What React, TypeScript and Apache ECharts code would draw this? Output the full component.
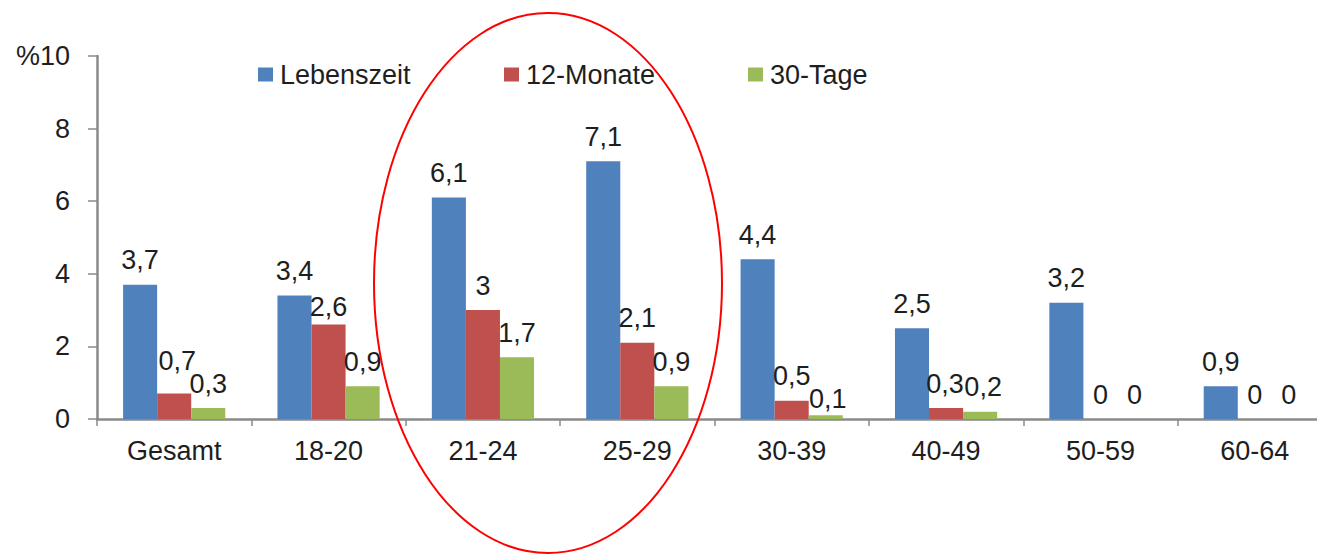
import React, { useEffect, useRef } from "react";
import * as echarts from "echarts";

const categories = ["Gesamt", "18-20", "21-24", "25-29", "30-39", "40-49", "50-59", "60-64"];
const lebenszeit = [3.7, 3.4, 6.1, 7.1, 4.4, 2.5, 3.2, 0.9];
const zwoelfMonate = [0.7, 2.6, 3, 2.1, 0.5, 0.3, 0, 0];
const dreissigTage = [0.3, 0.9, 1.7, 0.9, 0.1, 0.2, 0, 0];
const seriesNames = ["Lebenszeit", "12-Monate", "30-Tage"];
const colors = ["#4f81bd", "#c0504d", "#9bbb59"];

// per-point label nudges where labels would otherwise crowd each other
const labelNudges: Record<string, [number, number]> = {
  "1-0": [3, -8],
  "1-1": [0, 7],
  "1-5": [-1, 0],
  "2-4": [2, 8],
  "2-5": [3, 0],
};

const FONT = "'Liberation Sans', Arial, sans-serif";
const TEXT = "#1e1e1e";
const AXIS = "#8a8a8a";

// the plot runs slightly past the visible frame on the right
const CANVAS_W = 1345;
const CANVAS_H = 554;
const PLOT_LEFT = 97;
const PLOT_W = 1235;

export default function App() {
  const ref = useRef<HTMLDivElement>(null);

  useEffect(() => {
    if (!ref.current) return;
    const chart = echarts.init(ref.current, undefined, { renderer: "svg" });
    const all = [lebenszeit, zwoelfMonate, dreissigTage];

    const legendLefts = [258, 504, 748];

    chart.setOption({
      animation: false,
      backgroundColor: "#ffffff",
      textStyle: { fontFamily: FONT },
      legend: seriesNames.map((name, i) => ({
        data: [name],
        left: legendLefts[i],
        top: 61,
        padding: 0,
        icon: "rect",
        itemWidth: 15,
        itemHeight: 14,
        selectedMode: false,
        textStyle: { fontSize: 27, color: TEXT, fontFamily: FONT, padding: [0, 0, 0, 2] },
      })),
      grid: {
        left: PLOT_LEFT,
        top: 56,
        bottom: 135,
        right: CANVAS_W - PLOT_LEFT - PLOT_W,
        containLabel: false,
      },
      xAxis: {
        type: "category",
        data: categories,
        axisLine: { lineStyle: { color: AXIS, width: 2.5 } },
        axisTick: { show: true, alignWithLabel: false, length: 7, lineStyle: { color: AXIS, width: 1.5 } },
        axisLabel: { fontSize: 27, color: TEXT, margin: 18, fontFamily: FONT },
      },
      yAxis: {
        type: "value",
        min: 0,
        max: 10,
        interval: 2,
        splitLine: { show: false },
        axisLine: { show: true, lineStyle: { color: AXIS, width: 2.5 } },
        axisTick: { show: true, length: 9, lineStyle: { color: AXIS, width: 1.5 } },
        axisLabel: {
          fontSize: 27,
          color: TEXT,
          margin: 27,
          fontFamily: FONT,
          formatter: (v: number) => (v === 10 ? "%10" : String(v)),
        },
      },
      series: all.map((values, s) => ({
        name: seriesNames[s],
        type: "bar",
        barGap: "0%",
        barCategoryGap: "33.8%",
        itemStyle: { color: colors[s] },
        label: {
          show: true,
          position: "top",
          distance: 11,
          fontSize: 27,
          color: TEXT,
          fontFamily: FONT,
          formatter: (p: any) => String(p.value).replace(".", ","),
        },
        data: values.map((v, i) => {
          const nudge = labelNudges[`${s}-${i}`];
          return nudge ? { value: v, label: { offset: nudge } } : v;
        }),
      })),
      graphic: [
        {
          type: "ellipse",
          shape: { cx: 548, cy: 283, rx: 174, ry: 270 },
          style: { fill: "none", stroke: "#ff0000", lineWidth: 2 },
          z: 100,
        },
      ],
    });

    return () => chart.dispose();
  }, []);

  return (
    <div
      style={{
        position: "fixed",
        left: 0,
        top: 0,
        width: 1317,
        height: 554,
        overflow: "hidden",
        background: "#ffffff",
      }}
    >
      <div ref={ref} style={{ width: CANVAS_W, height: CANVAS_H }} />
    </div>
  );
}
